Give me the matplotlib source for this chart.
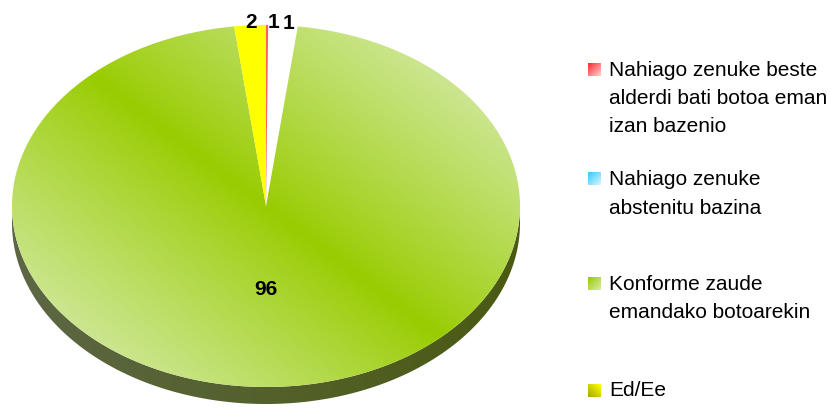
import numpy as np
import matplotlib
matplotlib.use("Agg")
import matplotlib.pyplot as plt
from matplotlib.patches import Polygon
from matplotlib.colors import to_rgb

plt.rcParams['font.family'] = ['Liberation Sans', 'DejaVu Sans']

# ---- data ----
categories = ["Nahiago zenuke beste\nalderdi bati botoa eman\nizan bazenio",
              "Nahiago zenuke\nabstenitu bazina",
              "Konforme zaude\nemandako botoarekin",
              "Ed/Ee"]
values = [1, 1, 96, 2]
value_labels = ["1", "1", "96", "2"]
legend_colors = [("#ff2b2b", "#ffd0d0"), ("#33ccff", "#d5f4ff"),
                 ("#99cc00", "#d8eca8"), ("#a8a800", "#ffff00")]

W, H = 839, 408
fig = plt.figure(figsize=(W / 100, H / 100), dpi=100)
ax = fig.add_axes([0, 0, 1, 1])
ax.set_xlim(0, W)
ax.set_ylim(H, 0)
ax.axis('off')

cx, cy, R, r, depth = 266, 206, 254, 181, 17

total = float(sum(values))
cum = np.concatenate([[0], np.cumsum(values)])
starts = 90 - 360 * cum[:-1] / total
ends = 90 - 360 * cum[1:] / total

def arc(t0, t1, n=400, dy=0):
    t = np.radians(np.linspace(t0, t1, n))
    return np.column_stack([cx + R * np.cos(t), cy - r * np.sin(t) + dy])

yy, xx = np.mgrid[0:H, 0:W] + 0.5

def grad_image(c_sat, c_light):
    d = np.array([0.8, 0.6])
    nvec = np.array([-d[1], d[0]])
    dist = np.abs((xx - cx) * nvec[0] + (yy - cy) * nvec[1])
    f = np.clip(dist / 230.0, 0, 1) ** 0.9
    a = np.array(to_rgb(c_sat)); b = np.array(to_rgb(c_light))
    return a[None, None, :] * (1 - f[..., None]) + b[None, None, :] * f[..., None]

def clip_img(img, pts, z):
    patch = Polygon(pts, closed=True, transform=ax.transData,
                    facecolor='none', edgecolor='none', zorder=z)
    ax.add_patch(patch)
    im = ax.imshow(img, extent=(0, W, H, 0), origin='upper', aspect='auto',
                   interpolation='bilinear', zorder=z)
    im.set_clip_path(patch)

# ---- side (front half) ----
for s, e in zip(starts, ends):
    lo, hi = min(s, e), max(s, e)
    for off in (0, -360, 360):
        a0, a1 = max(lo, -180 + off), min(hi, 0 + off)
        if a1 > a0:
            top = arc(a0, a1)
            bot = arc(a1, a0, dy=depth)
            pts = np.vstack([top, bot])
            fx = np.clip((xx - cx + R) / (2 * R), 0, 1)
            c0 = np.array(to_rgb("#5d6745")); c1 = np.array(to_rgb("#4a5a12"))
            img = c0[None, None, :] * (1 - fx[..., None]) + c1[None, None, :] * fx[..., None]
            clip_img(img, pts, 1)

# ---- top surface ----
slice_fill = ["white", "white", None, "#ffff00"]
for i, (s, e) in enumerate(zip(starts, ends)):
    pts = np.vstack([[cx, cy], arc(s, e), [cx, cy]])
    if slice_fill[i] is None:
        clip_img(grad_image("#99cc00", "#d0e89c"), pts, 2)
    else:
        ax.add_patch(Polygon(pts, closed=True, facecolor=slice_fill[i],
                             edgecolor='none', zorder=2))
# thin red edge of the first slice
red_edge = np.vstack([[cx, cy], arc(starts[0], starts[0] - 0.5, n=10)])
ax.add_patch(Polygon(red_edge, closed=True, facecolor="#ff6060",
                     edgecolor='none', zorder=3))

# ---- value labels ----
for i, (s, e) in enumerate(zip(starts, ends)):
    m = np.radians((s + e) / 2)
    if values[i] / total > 0.5:
        x = cx + 0.46 * R * np.cos(m); y = cy - 0.46 * r * np.sin(m)
    else:
        x = cx + 0.93 * R * np.cos(m); y = cy - r * np.sin(m) - 2.5
    ax.text(x, y, value_labels[i], ha='center', va='center', fontsize=15,
            fontweight='bold', color='black', zorder=5)

# ---- legend ----
baselines = [[75.5, 104, 132.5], [185, 213.5], [289.5, 318], [396.5]]
for i, lab in enumerate(categories):
    b = baselines[i][0]
    c0 = np.array(to_rgb(legend_colors[i][0])); c1 = np.array(to_rgb(legend_colors[i][1]))
    g = np.linspace(0, 1, 16)
    if i == 3:
        f = (g[None, :] + (1 - g[:, None])) / 2
    else:
        f = (g[None, :] + g[:, None]) / 2
    img = c0[None, None, :] * (1 - f[..., None]) + c1[None, None, :] * f[..., None]
    ymid = b - 6.3
    ax.imshow(img, extent=(588, 601, ymid + 6.5, ymid - 6.5), origin='upper',
              aspect='auto', interpolation='bilinear', zorder=4)
    for j, line in enumerate(lab.split("\n")):
        ax.text(609, baselines[i][j], line, ha='left', va='baseline',
                fontsize=15, color='black', zorder=5)

ax.set_xlim(0, W)
ax.set_ylim(H, 0)
fig.savefig("out.png", dpi=100, facecolor='white')
